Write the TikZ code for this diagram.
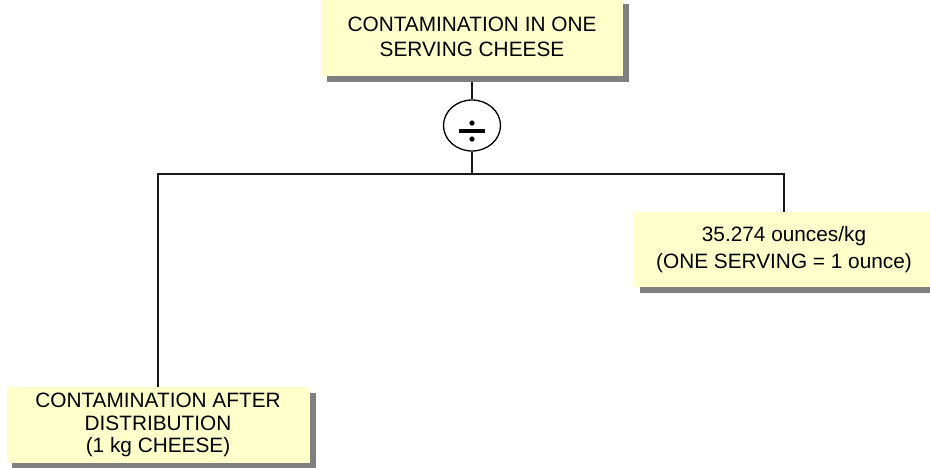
\documentclass[tikz,border=0pt]{standalone}
\usepackage{fontspec}
\setmainfont{Liberation Sans}
\usetikzlibrary{shapes.geometric,backgrounds}
\definecolor{notefill}{HTML}{FFFFCC}
\definecolor{shadowgray}{HTML}{808080}
\begin{document}
\begin{tikzpicture}[x=1pt,y=-1pt,
  notebox/.style={rectangle, fill=notefill, inner sep=0pt, align=center},
  boxshadow/.style={fill=shadowgray},
  link/.style={line width=1.4pt, draw=black!90}]
\useasboundingbox (0,0) rectangle (930,467);

% result node
\node[notebox, minimum width=302pt, minimum height=78pt,
  font=\fontsize{20.8}{25}\selectfont] (result) at (472,37)
  {CONTAMINATION IN ONE\\SERVING CHEESE};

% right input
\node[notebox, minimum width=300pt, minimum height=75pt,
  font=\fontsize{20.8}{27}\selectfont] (serving) at (784,249.5)
  {35.274 ounces/kg\\(ONE SERVING = 1 ounce)};

% left input
\node[notebox, minimum width=303pt, minimum height=76pt,
  font=\fontsize{20.8}{22.5}\selectfont] (dist) at (158,425)
  {CONTAMINATION AFTER\\DISTRIBUTION\\(1 kg CHEESE)};

% division operator
\node[draw, line width=1.3pt, ellipse, minimum width=57pt, minimum height=51pt,
  inner sep=0pt] (op) at (472,125.5) {};
\fill (472,123) circle (2.6pt) (472,139) circle (2.6pt);
\fill (459,129.3) rectangle (485,132.7);

\coordinate (j) at (472,174);

\begin{scope}[on background layer]
% connectors, underneath the box shadows
\draw[link] (result.south) -- (op.north);
\draw[link] (op.south) -- (j);
\draw[link] (dist.north) |- (j) -| (serving.north);
% box shadows
\foreach \b in {result,serving,dist}
  \fill[boxshadow] ([shift={(6,6)}]\b.north west) rectangle ([shift={(6,6)}]\b.south east);
\end{scope}
\end{tikzpicture}
\end{document}
